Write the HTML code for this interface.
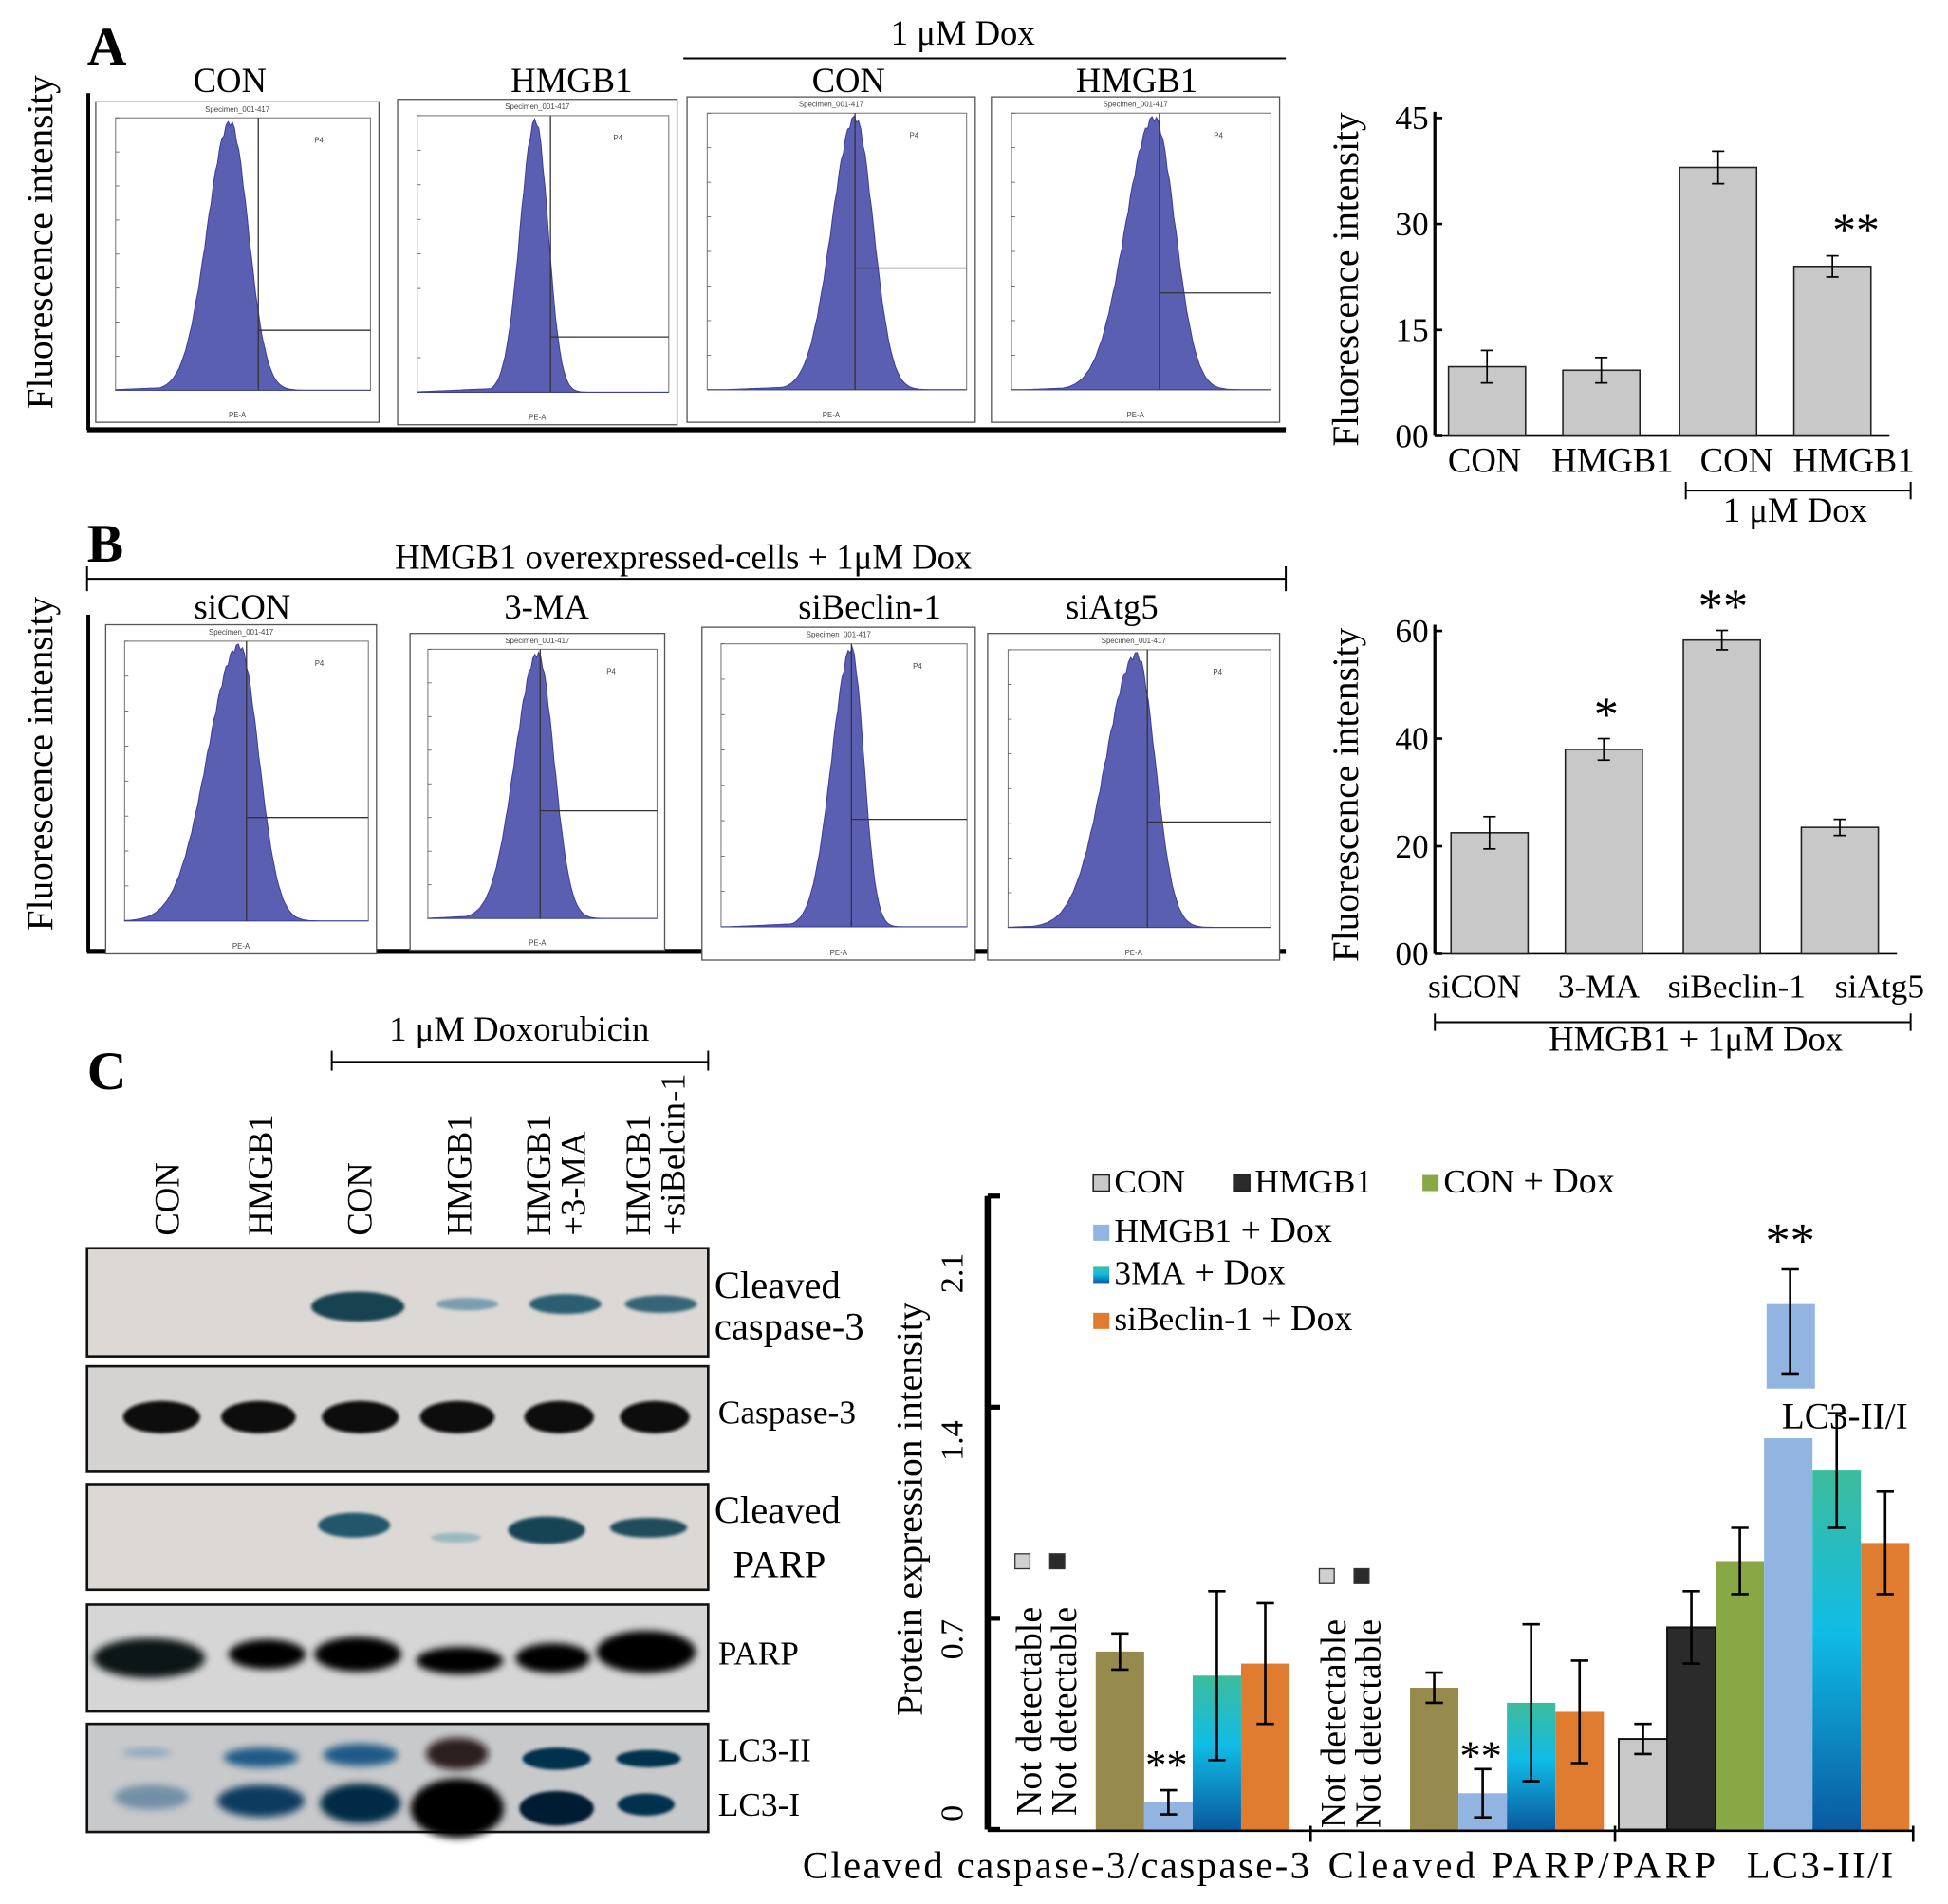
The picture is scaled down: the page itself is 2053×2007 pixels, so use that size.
<!DOCTYPE html>
<html><head><meta charset="utf-8"><style>
html,body{margin:0;padding:0;background:#fff;}
svg{display:block;font-family:"Liberation Serif",serif;}
</style></head><body>
<svg id="fig" width="2053" height="2007" viewBox="0 0 1568 1533" xmlns="http://www.w3.org/2000/svg">
<defs>
<filter id="blur" x="-20%" y="-50%" width="140%" height="200%"><feGaussianBlur stdDeviation="3"/></filter>
<filter id="blur2" x="-20%" y="-50%" width="140%" height="200%"><feGaussianBlur stdDeviation="1.2"/></filter>
<linearGradient id="tealg" x1="0" y1="0" x2="0" y2="1"><stop offset="0" stop-color="#3dbc9c"/><stop offset="0.45" stop-color="#10bce6"/><stop offset="1" stop-color="#0a5aa0"/></linearGradient>
</defs>
<g id="root"></g>
</svg>
<script>
// ---- Panel A bar chart data ----
const aCategories = ["CON","HMGB1","CON","HMGB1"];
const aValues = [9.8, 9.3, 38, 24];
const aErrors = [2.3, 1.8, 2.3, 1.5];
const aTicks = [0, 15, 30, 45];
const aTickLabels = ["00","15","30","45"];
// ---- Panel B bar chart data ----
const bCategories = ["siCON","3-MA","siBeclin-1","siAtg5"];
const bValues = [22.5, 38, 58.3, 23.5];
const bErrors = [3, 2, 1.8, 1.5];
const bTicks = [0, 20, 40, 60];
const bTickLabels = ["00","20","40","60"];
// ---- Panel C bar chart data ----
const cGroups = ["Cleaved caspase-3/caspase-3","Cleaved PARP/PARP","LC3-II/I"];
const cSeries = ["CON","HMGB1","CON + Dox","HMGB1 + Dox","3MA + Dox","siBeclin-1 + Dox"];
const cCaspase = [null, null, 0.59, 0.09, 0.51, 0.55];
const cCaspaseErr = [0, 0, 0.06, 0.04, 0.28, 0.2];
const cParp = [null, null, 0.47, 0.12, 0.42, 0.39];
const cParpErr = [0, 0, 0.05, 0.08, 0.26, 0.17];
const cLc3 = [0.30, 0.67, 0.89, 1.30, 1.19, 0.95];
const cLc3Err = [0.05, 0.12, 0.11, 0.35, 0.19, 0.17];
const cTicks = [0, 0.7, 1.4, 2.1];
const cTickLabels = ["0","0.7","1.4","2.1"];
// ---- flow histograms (peak fraction, left spread, right spread, gate x, gate y) ----
const histA = [[0.45,0.09,0.07,0.56,0.78],[0.47,0.06,0.05,0.53,0.8],[0.57,0.09,0.07,0.57,0.56],[0.55,0.11,0.08,0.57,0.65]];
const histB = [[0.47,0.13,0.08,0.5,0.63],[0.48,0.1,0.07,0.49,0.6],[0.53,0.08,0.05,0.53,0.62],[0.49,0.12,0.07,0.53,0.62]];

const NS="http://www.w3.org/2000/svg";
const root=document.getElementById('root');
function el(tag,attrs,parent,text){const e=document.createElementNS(NS,tag);for(const k in attrs)e.setAttribute(k,attrs[k]);if(text!==undefined)e.textContent=text;(parent||root).appendChild(e);return e;}
function txt(x,y,s,size,name,extra){const t=el('text',Object.assign({x:x,y:y,'font-size':size,fill:'#000'},extra||{}),root,s);


return t;}
function line(x1,y1,x2,y2,w,name){const l=el('line',{x1,y1,x2,y2,stroke:'#000','stroke-width':w||1.5});


return l;}

// ===== Panel A =====
txt(70,52,"A",44,"panel-a-label",{'font-weight':'bold'});
txt(775,36,"1 μM Dox",28,"dox-label-a",{'text-anchor':'middle'});
line(550,47,1035,47,1.5,"dox-bracket-a");
txt(0,0,"Fluorescence intensity",30,"y-axis-title-a",{transform:"translate(42,195) rotate(-90)",'text-anchor':'middle'});
line(71,75,71,346,3,"axis-left-a");
line(70,346,1035,346,4,"axis-bottom-a");
const boxesA=[[77,82,305,340,"CON",185],[320,80,545,342,"HMGB1",460],[553,78,785,340,"CON",683],[798,78,1030,340,"HMGB1",915]];
const boxesB=[[85,503,303,768,"siCON",195],[330,510,535,765,"3-MA",440],[565,505,785,773,"siBeclin-1",700],[795,510,1030,773,"siAtg5",895]];
function histogram(b,h,i,prefix,titleY){
  const [x1,y1,x2,y2,title,tx]=b;
  txt(tx,titleY,title,28,prefix+"-title-"+i,{'text-anchor':'middle'});
  const g=el('g',{});
  
  
  el('rect',{x:x1,y:y1,width:x2-x1,height:y2-y1,fill:'#fff',stroke:'#555','stroke-width':1},g);
  const ix1=x1+(x2-x1)*0.07, ix2=x2-(x2-x1)*0.03, iy1=y1+(y2-y1)*0.05, iy2=y2-(y2-y1)*0.1;
  el('rect',{x:ix1,y:iy1,width:ix2-ix1,height:iy2-iy1,fill:'none',stroke:'#777','stroke-width':0.8},g);
  el('text',{x:(x1+x2)/2,y:y1+8,'font-size':6,'text-anchor':'middle',fill:'#444','font-family':'Liberation Sans'},g,"Specimen_001-417");
  el('text',{x:(x1+x2)/2,y:y2-4,'font-size':6,'text-anchor':'middle',fill:'#444','font-family':'Liberation Sans'},g,"PE-A");
  el('text',{x:ix1+(ix2-ix1)*0.78,y:iy1+20,'font-size':6,fill:'#444','font-family':'Liberation Sans'},g,"P4");
  const [pk,sl,sr,gx,gy]=h; const W=ix2-ix1, H=iy2-iy1;
  let d="M"+ix1+","+iy2;
  for(let k=0;k<=120;k++){const f=k/120;const s=f<pk?sl:sr;let v=Math.exp(-Math.pow((f-pk)/s,2)/2);
    if(f<pk)v=Math.max(v,0.02*Math.max(0,1-(pk-f)*2));
    const jit=(k%3===0?0.02:0)*v; d+=" L"+(ix1+f*W).toFixed(1)+","+(iy2-(v-jit)*H*0.99).toFixed(1);}
  d+=" L"+ix2+","+iy2+" Z";
  el('path',{d:d,fill:'#5b5fb2',stroke:'#3d3f9a','stroke-width':0.8},g);
  const gX=ix1+gx*W, gY=iy1+gy*H;
  el('line',{x1:gX,y1:iy1,x2:gX,y2:iy2,stroke:'#333','stroke-width':1},g);
  el('line',{x1:gX,y1:gY,x2:ix2,y2:gY,stroke:'#333','stroke-width':1},g);
  for(let k=0;k<8;k++){el('line',{x1:ix1,y1:iy1+k*H/8,x2:ix1+3,y2:iy1+k*H/8,stroke:'#555','stroke-width':0.6},g);}
}
boxesA.forEach((b,i)=>histogram(b,histA[i],i,"panel-a",74));

// generic bar chart
function barChart(opts){
  const {ax,y0,yTop,vmax,cats,vals,errs,ticks,tlabels,barX,bw,prefix,labelY,labelXs,labelSize}=opts;
  const sy=v=>y0-(v/vmax)*(y0-yTop);
  line(ax,yTop-5,ax,y0,2.5,prefix+"-y-axis");
  line(ax,y0,barX[barX.length-1]+bw+15,y0,1.2,prefix+"-x-axis");
  ticks.forEach((t,i)=>{line(ax,sy(t),ax+6,sy(t),2,prefix+"-tick");
    txt(ax-5,sy(t)+9,tlabels[i],27,prefix+"-tick-label-"+i,{'text-anchor':'end'});});
  cats.forEach((c,i)=>{
    const r=el('rect',{x:barX[i],y:sy(vals[i]),width:bw,height:y0-sy(vals[i]),fill:'#c8c8c8',stroke:'#222','stroke-width':1.2});
    
    
    const cx=barX[i]+bw/2, et=sy(vals[i]+errs[i]), eb=sy(vals[i]-errs[i]);
    line(cx,et,cx,eb,1.3,prefix+"-error-"+i);line(cx-5,et,cx+5,et,1.3,prefix+"-cap");line(cx-5,eb,cx+5,eb,1.3,prefix+"-cap");
    txt(labelXs[i],labelY,c,labelSize||28,prefix+"-x-label-"+i,{'text-anchor':'middle'});
  });
  return sy;
}
const syA=barChart({ax:1155,y0:351,yTop:95,vmax:45,cats:aCategories,vals:aValues,errs:aErrors,ticks:aTicks,tlabels:aTickLabels,
  barX:[1166,1258,1352,1444],bw:62,prefix:"chart-a",labelY:380,labelXs:[1195,1298,1398,1492]});
txt(1475,syA(aValues[3]+aErrors[3])-8,"**",38,"chart-a-significance");
txt(0,0,"Fluorescence intensity",30,"y-axis-title-chart-a",{transform:"translate(1093,225) rotate(-90)",'text-anchor':'middle'});
line(1357,395,1538,395,1.5,"chart-a-dox-bracket");line(1357,388,1357,402,1.5,"bracket-end");line(1538,388,1538,402,1.5,"bracket-end");
txt(1445,420,"1 μM Dox",28,"chart-a-dox-label",{'text-anchor':'middle'});

// ===== Panel B =====
txt(70,452,"B",44,"panel-b-label",{'font-weight':'bold'});
txt(550,458,"HMGB1 overexpressed-cells + 1μM Dox",28,"panel-b-title",{'text-anchor':'middle'});
line(70,466,1035,466,1.5,"panel-b-bracket");line(70,456,70,476,1.5,"bracket-end");line(1035,456,1035,476,1.5,"bracket-end");
txt(0,0,"Fluorescence intensity",30,"y-axis-title-b",{transform:"translate(42,615) rotate(-90)",'text-anchor':'middle'});
line(71,495,71,766,3,"axis-left-b");
line(70,766,1035,766,4,"axis-bottom-b");
boxesB.forEach((b,i)=>histogram(b,histB[i],i,"panel-b",498));
const syB=barChart({ax:1155,y0:768,yTop:508,vmax:60,cats:bCategories,vals:bValues,errs:bErrors,ticks:bTicks,tlabels:bTickLabels,
  barX:[1168,1260,1355,1450],bw:62,prefix:"chart-b",labelY:803,labelXs:[1187,1287,1398,1513],labelSize:27});
txt(1293,syB(bValues[1]+bErrors[1])-6,"*",40,"chart-b-significance-3ma",{'text-anchor':'middle'});
txt(1387,syB(bValues[2]+bErrors[2])-6,"**",40,"chart-b-significance-beclin",{'text-anchor':'middle'});
txt(0,0,"Fluorescence intensity",30,"y-axis-title-chart-b",{transform:"translate(1093,640) rotate(-90)",'text-anchor':'middle'});
line(1155,823,1538,823,1.5,"chart-b-bracket");line(1155,816,1155,830,1.5,"bracket-end");line(1538,816,1538,830,1.5,"bracket-end");
txt(1365,846,"HMGB1 + 1μM Dox",28,"chart-b-bracket-label",{'text-anchor':'middle'});

// ===== Panel C blots =====
txt(70,877,"C",44,"panel-c-label",{'font-weight':'bold'});
txt(418,838,"1 μM Doxorubicin",28,"doxorubicin-label",{'text-anchor':'middle'});
line(267,855,570,855,1.5,"doxorubicin-bracket");line(267,846,267,862,1.5,"bracket-end");line(570,846,570,862,1.5,"bracket-end");
const laneX=[135,210,290,370,448,528];
const laneLabels=[["CON"],["HMGB1"],["CON"],["HMGB1"],["HMGB1","+3-MA"],["HMGB1","+siBelcin-1"]];
laneLabels.forEach((l,i)=>{l.forEach((s,j)=>{txt(0,0,s,28,"lane-label-"+i,{transform:"translate("+(laneX[i]+9+j*28-(l.length-1)*14)+",995) rotate(-90)"});});});
const blots=[[1005,1092,'#dcd8d5'],[1100,1185,'#d5d3d2'],[1195,1280,'#dcd8d5'],[1292,1378,'#d6d6d6'],[1388,1475,'#c8c9cb']];
blots.forEach((b,i)=>{const r=el('rect',{x:70,y:b[0],width:500,height:b[1]-b[0],fill:b[2],stroke:'#111','stroke-width':2});

});
const bandCx=[130,208,290,368,450,527];
function band(cx,cy,w,h,col,op,blur){const e=el('ellipse',{cx,cy,rx:w/2,ry:h/2,fill:col,opacity:op,filter:'url(#'+(blur||'blur2')+')'});

}
// cleaved caspase-3
band(288,1052,75,24,'#0c3a4a',0.95);band(376,1050,50,10,'#2a7090',0.55);band(455,1050,58,16,'#0d4a60',0.85);band(532,1050,58,14,'#0d4a60',0.8);
// caspase-3
bandCx.forEach((c,i)=>band(c,1141,[62,60,62,60,56,56][i],26,'#0a0a0a',1));
// cleaved parp
band(285,1228,58,20,'#0d4a60',0.9);band(367,1238,40,8,'#3a8aa0',0.4);band(440,1232,62,22,'#0a3c50',0.95);band(522,1230,62,16,'#0a3c50',0.9);
// parp
band(120,1335,90,32,'#0a1414',1,'blur');band(215,1332,62,24,'#050505',1,'blur');band(288,1332,70,28,'#050505',1,'blur');band(370,1337,70,22,'#050505',1,'blur');band(445,1335,60,24,'#050505',1,'blur');band(520,1330,80,34,'#050505',1,'blur');
// lc3
band(118,1411,40,6,'#3a7ab0',0.5,'blur');band(122,1447,60,20,'#3a6a90',0.6,'blur');
band(210,1415,60,16,'#0b4f80',0.9,'blur');band(210,1450,70,26,'#083a60',1,'blur');
band(290,1413,60,18,'#0b4f80',0.9,'blur');band(290,1452,65,32,'#062a44',1,'blur');
band(368,1412,50,26,'#1a0808',0.9,'blur');band(368,1456,75,48,'#050202',1,'blur');
band(448,1416,55,18,'#06304e',1);band(448,1456,60,28,'#041c30',1);
band(522,1416,52,14,'#06304e',1);band(520,1453,46,18,'#06304e',1);
[["Cleaved",575,1045],["caspase-3",575,1078],["Caspase-3",578,1146],["Cleaved",575,1226],["PARP",590,1270],["PARP",578,1340],["LC3-II",578,1418],["LC3-I",578,1462]].forEach((l,i)=>{
  txt(l[1],l[2],l[0],l[0].startsWith("Caspase")||l[0].startsWith("LC3")||(l[0]==="PARP"&&i===5)?27:31,"blot-label-"+i);});

// ===== Panel C chart =====
const cAx=795, cY0=1473, cYTop=963;
const syC=v=>cY0-(v/2.1)*(cY0-cYTop);
const cColors=['#c8c8c8','#2b2b2b','#88a845','#92b4e0','url(#tealg)','#e07c30'];
const cColorsG1=[null,null,'#968a4c','#92b4e0','url(#tealg)','#e07c30'];
const cBarW=39;
const cGroupStart=[804,1057,1303];
line(cAx,cYTop,cAx,cY0,5,"chart-c-y-axis");
line(cAx,cY0+1,1540,cY0+1,2,"chart-c-x-axis");
[cAx+260,cAx+505,1540].forEach(x=>line(x,cY0-3,x,cY0+10,2,"chart-c-x-tick"));
const cLabelOffset=[-13,17,27,62];
cTicks.forEach((t,i)=>{line(cAx,syC(t),cAx+10,syC(t),4,"chart-c-tick");
  txt(0,0,cTickLabels[i],26,"chart-c-tick-label-"+i,{transform:"translate("+(cAx-20)+","+(syC(t)+cLabelOffset[i])+") rotate(-90)",'text-anchor':'middle'});});
txt(0,0,"Protein expression intensity",30,"y-axis-title-c",{transform:"translate(742,1215) rotate(-90)",'text-anchor':'middle'});
function cBars(vals,errs,gi,colors){
  vals.forEach((v,i)=>{if(v===null)return;
    const x=cGroupStart[gi]+i*cBarW;
    let top=syC(v);
    const r=el('rect',{x:x,y:top,width:cBarW,height:cY0-top,fill:colors[i],stroke:(colors[i]==='#c8c8c8'||colors[i]==='#2b2b2b')?'#111':'none','stroke-width':1.5});
    
    
    if(gi===2&&i===3){
      const w=el('rect',{x:x-2,y:1120,width:cBarW+4,height:38,fill:'#fff'});
      
      
      return;}
    const cx=x+cBarW/2, et=syC(v+errs[i]), eb=syC(v-errs[i]);
    line(cx,et,cx,eb,2,'chart-c-error');line(cx-7,et,cx+7,et,2,'cap');line(cx-7,eb,cx+7,eb,2,'cap');
  });
}
cBars(cCaspase,cCaspaseErr,0,cColorsG1);
cBars(cParp,cParpErr,1,cColorsG1);
cBars(cLc3,cLc3Err,2,cColors);
const insetR=el('rect',{x:1422,y:1050,width:cBarW,height:68,fill:'#92b4e0'});


line(1441,1022,1441,1106,2,'inset-error');line(1434,1022,1448,1022,2,'cap');line(1434,1106,1448,1106,2,'cap');
txt(1441,1012,"**",40,"chart-c-significance-lc3",{'text-anchor':'middle'});
txt(1485,1150,"LC3-II/I",30,"lc3-inset-label",{'text-anchor':'middle'});
txt(939,1432,"**",34,"chart-c-significance-caspase",{'text-anchor':'middle'});
txt(1192,1425,"**",34,"chart-c-significance-parp",{'text-anchor':'middle'});
[[838,'#d0d0d0'],[866,'#2b2b2b'],[1083,'#d0d0d0'],[1111,'#2b2b2b']].forEach((n,i)=>{
  txt(0,0,"Not detectable",29,"not-detectable-"+i,{transform:"translate("+n[0]+","+(i<2?1462:1472)+") rotate(-90)"});
  const s=el('rect',{x:n[0]-21,y:(i<2?1251:1263),width:12,height:12,fill:n[1],stroke:'#333','stroke-width':1});
  
  });
txt(850,1512,cGroups[0],31,"chart-c-x-label-0",{'text-anchor':'middle','textLength':408});
txt(1225,1512,cGroups[1],31,"chart-c-x-label-1",{'text-anchor':'middle','textLength':312});
txt(1465,1512,cGroups[2],31,"chart-c-x-label-2",{'text-anchor':'middle','textLength':118});
const legPos=[[880,960],[993,960],[1145,960],[880,1000],[880,1034],[880,1071]];
const legText=[["CON",""],["HMGB1",""],["CON"," + Dox"],["HMGB1","   + Dox"],["3MA","  + Dox"],["siBeclin-1"," + Dox"]];
cSeries.forEach((s,i)=>{
  const [x,y]=legPos[i];
  const sw=el('rect',{x:x,y:y-14,width:13,height:13,fill:cColors[i],stroke:(i<2)?'#222':'none','stroke-width':1.2});
  
  
  const t=el('text',{x:x+17,y:y,'font-size':27,fill:'#000'},root);
  
  
  el('tspan',{},t,legText[i][0]);
  if(legText[i][1]){el('tspan',{'font-size':29,'xml:space':'preserve'},t,legText[i][1]);}
});
</script>
</body></html>
